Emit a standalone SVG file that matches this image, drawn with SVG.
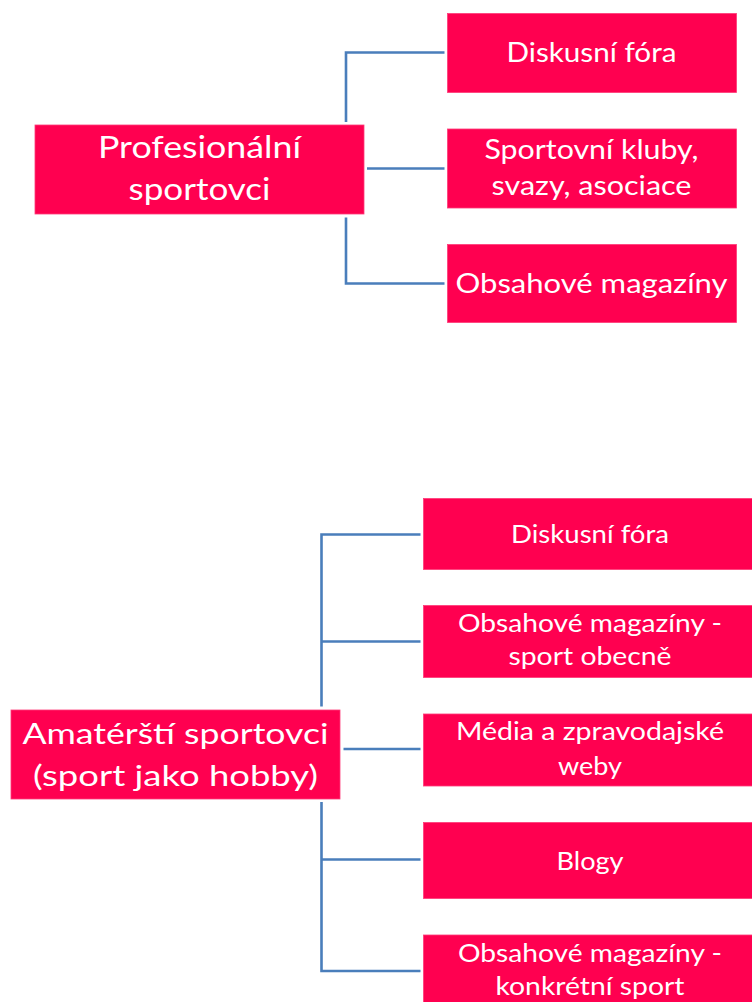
<svg xmlns="http://www.w3.org/2000/svg" width="752" height="1002" viewBox="0 0 752 1002">
<style>
.box{fill:#ff0050;stroke:#ff3b78;stroke-width:0.8}
.t{font-family:Lato,"Open Sans","Liberation Sans",sans-serif;fill:#ffffff;text-anchor:middle}
.c{fill:none;stroke:#4a7ebb;stroke-width:2.6}
</style>
<rect width="752" height="1002" fill="#ffffff"/>
<g id="connectors">
<path class="c" d="M346,122 V52.5 H444.5"/>
<path class="c" d="M367,168.5 H444.5"/>
<path class="c" d="M346,217.5 V283.5 H444.5"/>
<path class="c" d="M321.5,706.5 V534.5 H420.5"/>
<path class="c" d="M321.5,641.5 H420.5"/>
<path class="c" d="M343.5,749 H420.5"/>
<path class="c" d="M321.5,802 V971 H420.5"/>
<path class="c" d="M321.5,859.5 H420.5"/>
</g>
<g id="n-prof">
<rect class="box" x="35" y="125" width="329" height="89"/>
<text class="t" font-size="30.5" x="199.5" y="158.3" textLength="203" lengthAdjust="spacingAndGlyphs">Profesionální</text>
<text class="t" font-size="30.5" x="199.5" y="200" textLength="142" lengthAdjust="spacingAndGlyphs">sportovci</text>
</g>
<g id="n-p-forum">
<rect class="box" x="447.5" y="13.5" width="289" height="79"/>
<text class="t" font-size="27" x="591.5" y="62.3" textLength="170" lengthAdjust="spacingAndGlyphs">Diskusní fóra</text>
</g>
<g id="n-p-kluby">
<rect class="box" x="447.5" y="129" width="289" height="79"/>
<text class="t" font-size="27" x="591.5" y="159.3" textLength="214" lengthAdjust="spacingAndGlyphs">Sportovní kluby,</text>
<text class="t" font-size="27" x="591.5" y="194.5" textLength="200" lengthAdjust="spacingAndGlyphs">svazy, asociace</text>
</g>
<g id="n-p-mag">
<rect class="box" x="447.5" y="244.5" width="289" height="78"/>
<text class="t" font-size="27" x="591.5" y="293.3" textLength="272" lengthAdjust="spacingAndGlyphs">Obsahové magazíny</text>
</g>
<g id="n-amat">
<rect class="box" x="11" y="710" width="329" height="89"/>
<text class="t" font-size="29.5" x="175.5" y="744" textLength="306" lengthAdjust="spacingAndGlyphs">Amatérští sportovci</text>
<text class="t" font-size="29.5" x="175.5" y="786" textLength="285" lengthAdjust="spacingAndGlyphs">(sport jako hobby)</text>
</g>
<g id="n-a-forum">
<rect class="box" x="423.5" y="498.5" width="334" height="71"/>
<text class="t" font-size="25.5" x="590" y="542.7" textLength="158" lengthAdjust="spacingAndGlyphs">Diskusní fóra</text>
</g>
<g id="n-a-mag">
<rect class="box" x="423.5" y="605.5" width="334" height="72"/>
<text class="t" font-size="25.5" x="590" y="631.7" textLength="264" lengthAdjust="spacingAndGlyphs">Obsahové magazíny -</text>
<text class="t" font-size="25.5" x="590" y="665" textLength="163" lengthAdjust="spacingAndGlyphs">sport obecně</text>
</g>
<g id="n-a-media">
<rect class="box" x="423.5" y="714" width="334" height="72"/>
<text class="t" font-size="25.5" x="590" y="740" textLength="268" lengthAdjust="spacingAndGlyphs">Média a zpravodajské</text>
<text class="t" font-size="25.5" x="590" y="775" textLength="64" lengthAdjust="spacingAndGlyphs">weby</text>
</g>
<g id="n-a-blogy">
<rect class="box" x="423.5" y="822.5" width="334" height="76"/>
<text class="t" font-size="25.5" x="590" y="870" textLength="67" lengthAdjust="spacingAndGlyphs">Blogy</text>
</g>
<g id="n-a-konkr">
<rect class="box" x="423.5" y="935" width="334" height="80"/>
<text class="t" font-size="25.5" x="590" y="961.7" textLength="264" lengthAdjust="spacingAndGlyphs">Obsahové magazíny -</text>
<text class="t" font-size="25.5" x="590" y="995" textLength="189" lengthAdjust="spacingAndGlyphs">konkrétní sport</text>
</g>
</svg>
